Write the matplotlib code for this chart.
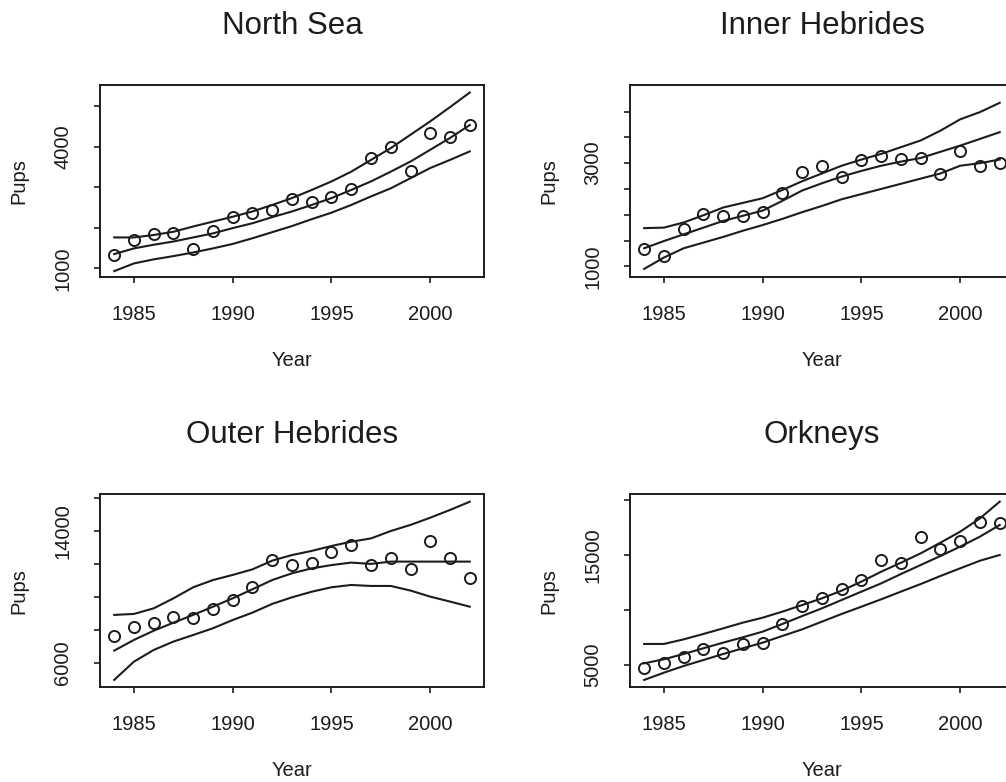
import matplotlib
matplotlib.use("Agg")
import matplotlib.pyplot as plt
import numpy as np

# ---- data ----
years = list(range(1984, 2003))

ns_obs = [1330, 1700, 1840, 1860, 1480, 1920, 2270, 2360, 2440, 2710, 2640, 2750, 2950,
          3710, 4000, 3400, 4330, 4230, 4530]
ns_upper = [1760, 1760, 1820, 1900, 2030, 2150, 2270, 2400, 2560, 2730, 2930, 3140, 3380,
            3670, 3960, 4290, 4620, 4970, 5330]
ns_fit = [1350, 1490, 1580, 1660, 1760, 1860, 1990, 2110, 2260, 2400, 2560, 2730, 2930,
          3140, 3380, 3630, 3920, 4210, 4530]
ns_lower = [930, 1120, 1220, 1300, 1390, 1490, 1600, 1740, 1890, 2040, 2210, 2370, 2560,
            2770, 2970, 3220, 3470, 3670, 3880]

ih_obs = [1340, 1200, 1730, 2020, 1970, 1970, 2050, 2430, 2830, 2940, 2730, 3060, 3130,
          3090, 3100, 2790, 3240, 2950, 3000]
ih_upper = [1740, 1750, 1850, 1990, 2140, 2230, 2320, 2480, 2650, 2800, 2950, 3070, 3180,
            3310, 3440, 3630, 3850, 3990, 4170]
ih_fit = [1350, 1490, 1620, 1750, 1880, 1980, 2080, 2270, 2470, 2610, 2740, 2850, 2950,
          3030, 3100, 3220, 3340, 3470, 3600]
ih_lower = [950, 1170, 1350, 1460, 1570, 1690, 1800, 1920, 2050, 2170, 2300, 2400, 2500,
            2600, 2700, 2800, 2950, 3000, 3070]

oh_obs = [7620, 8190, 8430, 8800, 8690, 9280, 9810, 10620, 12240, 11930, 12040, 12740,
          13150, 11930, 12380, 11690, 13390, 12340, 11170]
oh_upper = [8900, 8960, 9300, 9910, 10580, 11020, 11330, 11670, 12200, 12540, 12790, 13090,
            13350, 13550, 14000, 14370, 14810, 15280, 15780]
oh_fit = [6730, 7380, 7940, 8430, 8900, 9400, 9910, 10460, 11020, 11430, 11730, 11930,
          12080, 12000, 12140, 12140, 12140, 12140, 12140]
oh_lower = [4950, 6060, 6770, 7280, 7680, 8090, 8590, 9040, 9570, 9970, 10310, 10580,
            10720, 10660, 10660, 10380, 10010, 9710, 9400]

ok_obs = [4760, 5210, 5760, 6420, 6060, 6910, 6970, 8700, 10360, 11060, 11880, 12730,
          14550, 14300, 16670, 15520, 16300, 18030, 17940]
ok_upper = [6910, 6910, 7330, 7820, 8330, 8850, 9300, 9850, 10450, 11060, 11760, 12580,
            13480, 14300, 15150, 16120, 17120, 18330, 19850]
ok_fit = [5150, 5520, 6000, 6520, 7030, 7520, 8030, 8730, 9450, 10150, 10910, 11670,
          12420, 13270, 14090, 14910, 15760, 16670, 17730]
ok_lower = [3640, 4300, 4910, 5450, 6000, 6520, 7030, 7640, 8240, 8940, 9640, 10300,
            10970, 11670, 12360, 13090, 13790, 14480, 15000]

panels = [
    ("North Sea", ns_obs, ns_upper, ns_fit, ns_lower,
     [1000, 2000, 3000, 4000, 5000], ["1000", "", "", "4000", ""], (778, 5515)),
    ("Inner Hebrides", ih_obs, ih_upper, ih_fit, ih_lower,
     [1000, 1500, 2000, 2500, 3000, 3500, 4000], ["1000", "", "", "", "3000", "", ""], (787, 4515)),
    ("Outer Hebrides", oh_obs, oh_upper, oh_fit, oh_lower,
     [6000, 8000, 10000, 12000, 14000, 16000], ["6000", "", "", "", "14000", ""], (4500, 16250)),
    ("Orkneys", ok_obs, ok_upper, ok_fit, ok_lower,
     [5000, 10000, 15000, 20000], ["5000", "", "15000", ""], (2970, 20545)),
]

plt.rcParams['font.family'] = ['Liberation Sans', 'DejaVu Sans']
ink = '#1c1c1c'

fig = plt.figure(figsize=(10.06, 7.82), dpi=100)
# axes boxes in figure fraction (right column runs off the page like the original)
boxes = [(0.0994, 0.6454, 0.3817, 0.2459), (0.6262, 0.6454, 0.3817, 0.2459),
         (0.0994, 0.1211, 0.3817, 0.2472), (0.6262, 0.1211, 0.3817, 0.2472)]

for box, (title, obs, up, fit, lo, yt, ytl, ylim) in zip(boxes, panels):
    ax = fig.add_axes(box)
    ax.plot(years, up, color=ink, lw=1.5)
    ax.plot(years, fit, color=ink, lw=1.5)
    ax.plot(years, lo, color=ink, lw=1.5)
    ax.plot(years, obs, 'o', mfc='none', mec=ink, mew=1.4, ms=8)
    ax.set_xlim(1983.28, 2002.72)
    ax.set_ylim(*ylim)
    ax.set_xticks([1985, 1990, 1995, 2000])
    ax.set_yticks(yt)
    ax.set_yticklabels(ytl, rotation=90, va='center')
    ax.tick_params(colors=ink, labelsize=14.5, length=4, width=1.2, pad=16)
    for s in ax.spines.values():
        s.set_linewidth(1.4)
        s.set_color(ink)
    ax.set_title(title, fontsize=22.5, pad=37, color=ink)
    ax.set_xlabel("Year", fontsize=14.5, labelpad=19.5, color=ink)
    ax.set_ylabel("Pups", fontsize=14.5, labelpad=18, color=ink)

fig.savefig("out.png", dpi=100)
